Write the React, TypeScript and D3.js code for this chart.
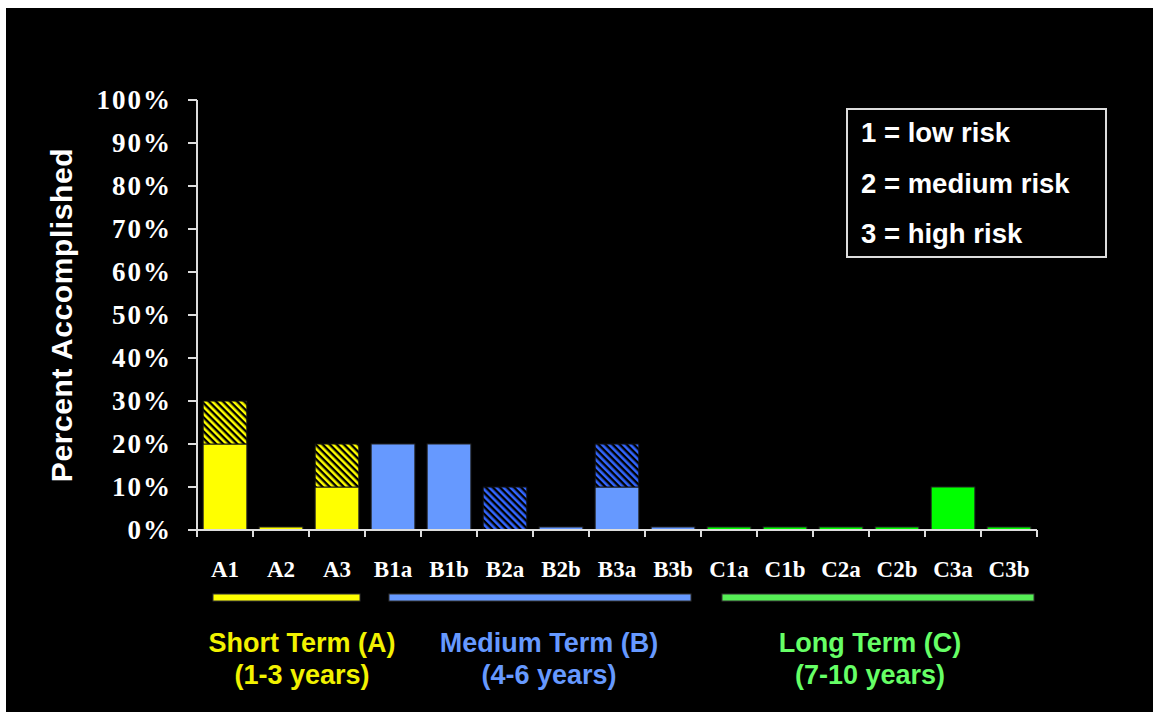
import React from 'react';
import * as d3 from 'd3';

// categories and values (percent accomplished)
const categories = ['A1', 'A2', 'A3', 'B1a', 'B1b', 'B2a', 'B2b', 'B3a', 'B3b', 'C1a', 'C1b', 'C2a', 'C2b', 'C3a', 'C3b'];
const groupOf = ['A', 'A', 'A', 'B', 'B', 'B', 'B', 'B', 'B', 'C', 'C', 'C', 'C', 'C', 'C'];
const solidValues = [20, 0.7, 10, 20, 20, 0, 0.7, 10, 0.7, 0.7, 0.7, 0.7, 0.7, 10, 0.7];
const hatchedValues = [10, 0, 10, 0, 0, 10, 0, 10, 0, 0, 0, 0, 0, 0, 0];
const yTicks = [0, 10, 20, 30, 40, 50, 60, 70, 80, 90, 100];
const legendLines = ['1 = low risk', '2 = medium risk', '3 = high risk'];

const groups = [
  { key: 'A', first: 'A1', last: 'A3', title: 'Short Term (A)', sub: '(1-3 years)' },
  { key: 'B', first: 'B1a', last: 'B3b', title: 'Medium Term (B)', sub: '(4-6 years)' },
  { key: 'C', first: 'C1a', last: 'C3b', title: 'Long Term (C)', sub: '(7-10 years)' },
];

const barColor = { A: '#FFFF00', B: '#6699FF', C: '#00FF00' };
const stripeColor = { A: '#FFFF00', B: '#3366FF', C: '#00FF00' };
const lineColor = { A: '#FFFF00', B: '#6699FF', C: '#55EE55' };
const textColor = { A: '#F2F200', B: '#6699FF', C: '#66FF66' };
// group underline offsets from band edges and label centers
const lineInset = { A: [16, 5], B: [24, 10], C: [21, 3] };
const labelCenter = { A: 302, B: 549, C: 870 };

const W = 1153;
const H = 712;
const margin = { left: 197, right: 116, top: 100, bottom: 182 };

const serif = '"Liberation Serif", "Times New Roman", serif';
const sans = '"Liberation Sans", Arial, sans-serif';

export default function App() {
  const x = d3.scaleBand()
    .domain(categories)
    .range([margin.left, W - margin.right])
    .padding(0);
  const y = d3.scaleLinear()
    .domain([0, 100])
    .range([H - margin.bottom, margin.top]);
  const bw = x.bandwidth();
  const barW = bw * 0.78;
  const barOff = (bw - barW) / 2;

  return (
    <svg width={W} height={H} style={{ position: 'absolute', left: 0, top: 0 }}>
      <defs>
        {(['A', 'B', 'C'] as const).map(g => (
          <pattern key={g} id={`hatch-${g}`} patternUnits="userSpaceOnUse" width={5} height={5}
            patternTransform="rotate(-45)">
            <rect width={5} height={5} fill="#000" />
            <rect width={2.6} height={5} fill={stripeColor[g]} />
          </pattern>
        ))}
      </defs>
      <rect x={0} y={0} width={W} height={H} fill="#fff" />
      <rect x={6} y={8} width={W - 6} height={H - 8} fill="#000" />

      {/* bars */}
      {categories.map((c, i) => {
        const g = groupOf[i];
        const s = solidValues[i];
        const h = hatchedValues[i];
        return (
          <g key={c}>
            {s > 0 && (
              <rect x={x(c)! + barOff} y={y(s)} width={barW} height={y(0) - y(s)}
                fill={barColor[g]} stroke="#222" strokeWidth={1} />
            )}
            {h > 0 && (
              <rect x={x(c)! + barOff} y={y(s + h)} width={barW} height={y(s) - y(s + h)}
                fill={`url(#hatch-${g})`} stroke="#111" strokeWidth={1} />
            )}
          </g>
        );
      })}

      {/* y axis */}
      <line x1={margin.left} x2={margin.left} y1={y(100)} y2={y(0)} stroke="#ddd" strokeWidth={2} />
      {yTicks.map(t => (
        <g key={t}>
          <line x1={margin.left - 9} x2={margin.left} y1={y(t)} y2={y(t)} stroke="#ddd" strokeWidth={2} />
          <text x={172} y={y(t) + 9} textAnchor="end" fill="#fff" fontFamily={serif} fontWeight="bold"
            fontSize={27} letterSpacing={2}>{t}%</text>
        </g>
      ))}

      {/* x axis */}
      <line x1={margin.left} x2={W - margin.right} y1={y(0)} y2={y(0)} stroke="#ddd" strokeWidth={2} />
      {categories.map(c => (
        <line key={'t' + c} x1={x(c)!} x2={x(c)!} y1={y(0)} y2={y(0) + 7} stroke="#ddd" strokeWidth={2} />
      ))}
      <line x1={W - margin.right} x2={W - margin.right} y1={y(0)} y2={y(0) + 7} stroke="#ddd" strokeWidth={2} />
      {categories.map(c => (
        <text key={'l' + c} x={x(c)! + bw / 2} y={577} textAnchor="middle" fill="#fff"
          fontFamily={serif} fontWeight="bold" fontSize={23}>{c}</text>
      ))}

      {/* y title */}
      <text transform={`translate(72,${(y(0) + y(100)) / 2}) rotate(-90)`} textAnchor="middle"
        fill="#fff" fontFamily={sans} fontWeight="bold" fontSize={30} letterSpacing={0.6}>Percent Accomplished</text>

      {/* group underlines and labels */}
      {groups.map(g => {
        const x0 = x(g.first)! + lineInset[g.key][0];
        const x1 = x(g.last)! + bw - lineInset[g.key][1];
        return (
          <g key={g.key}>
            <rect x={x0} y={594} width={x1 - x0} height={7} fill={lineColor[g.key]} stroke="#333" strokeWidth={1} />
            <text x={labelCenter[g.key]} y={652} textAnchor="middle" fill={textColor[g.key]}
              fontFamily={sans} fontWeight="bold" fontSize={27}>{g.title}</text>
            <text x={labelCenter[g.key]} y={684} textAnchor="middle" fill={textColor[g.key]}
              fontFamily={sans} fontWeight="bold" fontSize={27}>{g.sub}</text>
          </g>
        );
      })}

      {/* legend */}
      <rect x={847} y={109} width={259} height={148} fill="#000" stroke="#ddd" strokeWidth={2} />
      {legendLines.map((t, i) => (
        <text key={t} x={861} y={142 + i * 50.5} fill="#fff" fontFamily={sans} fontWeight="bold"
          fontSize={27.5}>{t}</text>
      ))}
    </svg>
  );
}
